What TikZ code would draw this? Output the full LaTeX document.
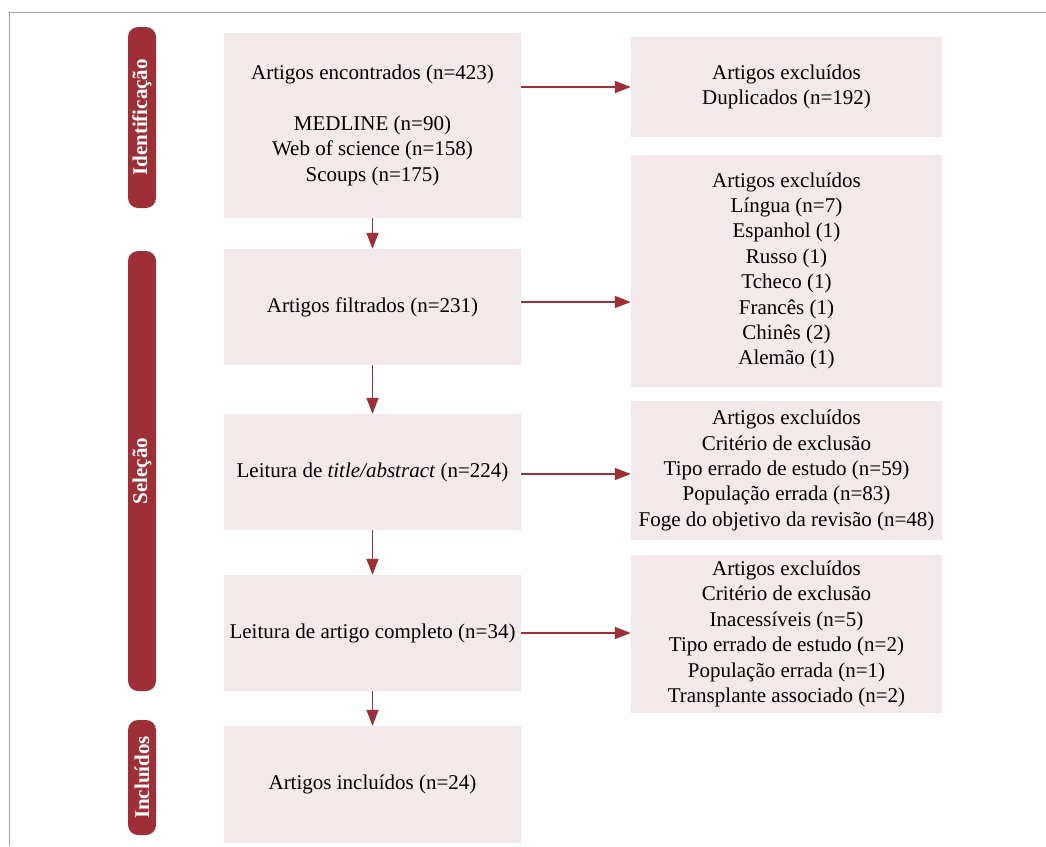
\documentclass[tikz,border=0pt]{standalone}
\usepackage{fontspec}
\setmainfont{Liberation Serif}
\usetikzlibrary{arrows.meta}
\definecolor{barred}{RGB}{158,47,54}
\definecolor{boxpink}{RGB}{243,232,234}
\definecolor{framegray}{RGB}{165,165,165}

\begin{document}
\begin{tikzpicture}[x=1pt, y=-1pt,
                    flowarrow/.style={-{Triangle[length=16pt,width=12pt]},
                      line width=1.5pt,
                      barred},
                    stepbox/.style={fill=boxpink,
                      inner sep=0pt,
                      align=center,
                      text=black,
                      font=\fontsize{21}{25.4}\selectfont},
                    leftbox/.style={stepbox,
                      minimum width=297pt,
                      minimum height=116pt},
                    rightbox/.style={stepbox,
                      minimum width=311pt},
                    stagebar/.style={fill=barred,
                      rounded corners=10pt,
                      rotate=90,
                      minimum height=28pt,
                      inner sep=0pt,
                      text=white,
                      font=\fontsize{21}{25}\selectfont\bfseries}]
\useasboundingbox (0,0) rectangle (1046,846);
\draw[framegray, line width=1pt] (9,846) -- (9,12) -- (1046,12);
% stages
\node (ident) [stagebar, minimum width=181pt] at (142,117.5) {Identificação};
\node (sel) [stagebar, minimum width=440pt] at (142,471) {Seleção};
\node (incl) [stagebar, minimum width=115pt] at (142,777.5) {Incluídos};
% main flow
\node (found) [leftbox, minimum height=185pt] at (372.5,125.5)
  {Artigos encontrados (n=423)\\[25.4pt]
   MEDLINE (n=90)\\ Web of science (n=158)\\ Scoups (n=175)};
\node (filtered) [leftbox] at (372.5,307) {Artigos filtrados (n=231)};
\node (title) [leftbox] at (372.5,472)
  {Leitura de \textit{title/abstract} (n=224)};
\node (full) [leftbox] at (372.5,633) {Leitura de artigo completo (n=34)};
\node (included) [leftbox, minimum height=117pt] at (372.5,784.5)
  {Artigos incluídos (n=24)};
\foreach \u/\v in {found/filtered, filtered/title, title/full, full/included}
  \draw[flowarrow] (\u) -- (\v);
% excluded
\node (dup) [rightbox, minimum height=100pt] at (786.5,87)
  {Artigos excluídos\\ Duplicados (n=192)};
\node (lang) [rightbox, minimum height=232pt] at (786.5,271)
  {Artigos excluídos\\ Língua (n=7)\\ Espanhol (1)\\ Russo (1)\\ Tcheco (1)\\
   Francês (1)\\ Chinês (2)\\ Alemão (1)};
\node (excla) [rightbox, minimum height=139pt] at (786.5,470.5)
  {Artigos excluídos\\ Critério de exclusão\\ Tipo errado de estudo (n=59)\\
   População errada (n=83)\\ Foge do objetivo da revisão (n=48)};
\node (exclb) [rightbox, minimum height=158pt] at (786.5,634)
  {Artigos excluídos\\ Critério de exclusão\\ Inacessíveis (n=5)\\
   Tipo errado de estudo (n=2)\\ População errada (n=1)\\ Transplante associado (n=2)};
\draw[flowarrow] (dup.west -| found.east) -- (dup.west);
\draw[flowarrow] ([yshift=5pt]filtered.east) -- ([yshift=5pt]filtered.east -| lang.west);
\draw[flowarrow] ([yshift=-2pt]title.east) -- ([yshift=-2pt]title.east -| excla.west);
\draw[flowarrow] (full) -- (full -| exclb.west);
\end{tikzpicture}
\end{document}
